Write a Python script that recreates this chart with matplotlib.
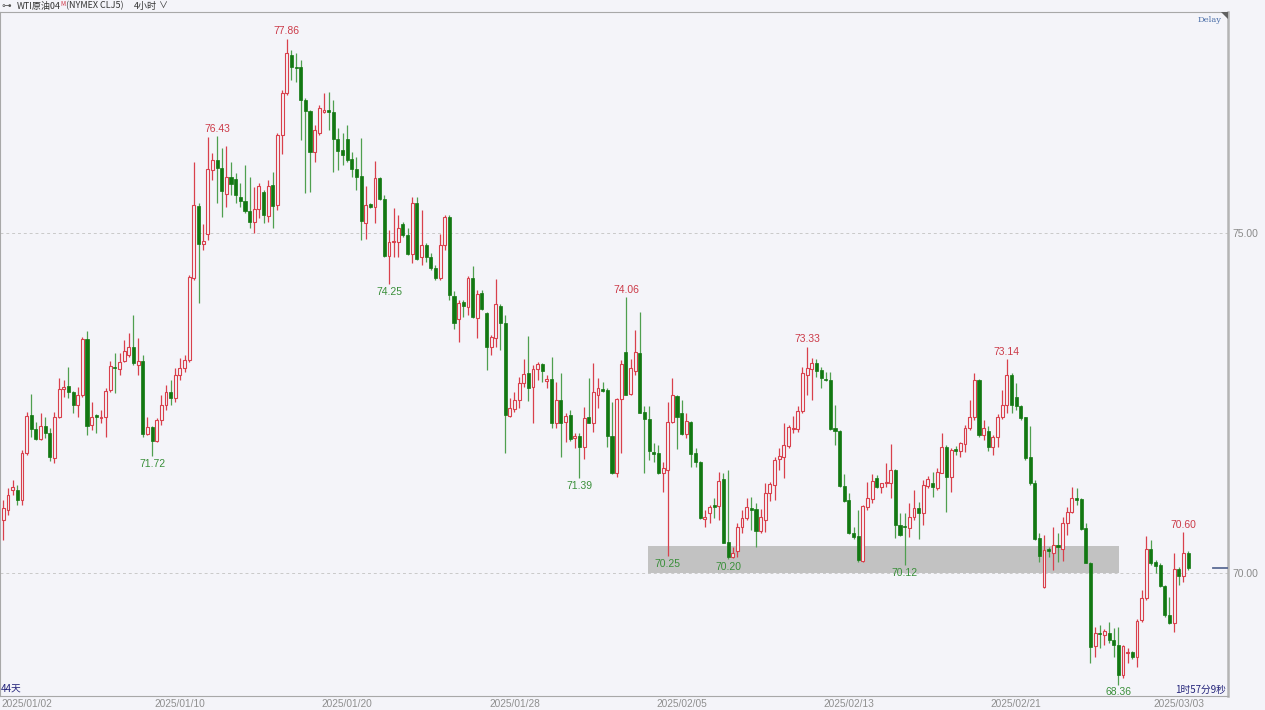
import matplotlib
matplotlib.use("Agg")
import matplotlib.pyplot as plt
from matplotlib.patches import Rectangle, Polygon

# WTI 4h candles, 2025/01/02 - 2025/03/03
opens = [
    70.78, 70.93, 71.22, 71.22, 71.07, 71.76, 72.32, 72.12, 71.97, 72.16,
    72.06, 71.69, 72.29, 72.71, 72.75, 72.66, 72.47, 72.62, 73.44, 72.18,
    72.32, 72.28, 72.29, 72.69, 73.03, 73.00, 73.12, 73.21, 73.32, 73.06,
    73.12, 72.04, 72.15, 71.94, 72.25, 72.47, 72.66, 72.57, 72.91, 73.01,
    73.13, 74.34, 75.40, 74.84, 74.99, 75.93, 76.07, 75.96, 75.57, 75.82,
    75.79, 75.53, 75.47, 75.32, 75.16, 75.35, 75.60, 75.25, 75.71, 75.41,
    76.44, 77.06, 77.62, 77.44, 77.44, 76.96, 76.79, 76.19, 76.47, 76.78,
    76.81, 76.78, 76.38, 76.22, 76.38, 76.09, 75.94, 75.84, 75.15, 75.43,
    75.38, 75.81, 75.50, 74.66, 74.87, 74.87, 75.13, 74.97, 74.69, 75.44,
    74.65, 74.82, 74.65, 74.49, 74.34, 74.82, 75.24, 74.07, 73.74, 73.99,
    73.91, 74.34, 73.75, 74.12, 73.82, 73.32, 73.46, 73.93, 73.68, 72.31,
    72.41, 72.54, 72.79, 72.94, 72.74, 73.00, 73.07, 72.82, 72.85, 72.21,
    72.54, 72.22, 72.32, 71.99, 72.01, 71.85, 72.29, 72.21, 72.62, 72.71,
    72.69, 72.01, 71.47, 72.56, 73.25, 72.63, 72.97, 73.24, 72.37, 72.26,
    71.78, 71.76, 71.47, 71.51, 72.22, 72.60, 72.35, 72.04, 72.22, 71.76,
    71.63, 70.79, 70.88, 71.00, 70.99, 71.38, 70.46, 70.24, 70.32, 70.68,
    70.81, 70.96, 70.94, 70.62, 70.78, 71.18, 71.29, 71.68, 71.71, 71.87,
    72.12, 72.12, 72.38, 72.91, 73.00, 73.09, 72.99, 72.85, 72.84, 72.13,
    72.09, 71.28, 71.07, 70.59, 70.54, 70.18, 70.97, 71.09, 71.40, 71.26,
    71.32, 71.32, 71.51, 70.71, 70.69, 70.66, 70.82, 70.96, 70.88, 71.28,
    71.32, 71.25, 71.47, 71.85, 71.41, 71.82, 71.79, 71.90, 72.13, 72.29,
    72.84, 72.03, 72.09, 71.85, 72.00, 72.29, 72.47, 72.91, 72.59, 72.46,
    72.29, 71.71, 71.32, 70.51, 69.79, 70.35, 70.29, 70.41, 70.35, 70.74,
    70.90, 71.10, 71.09, 70.66, 70.15, 68.93, 69.12, 69.09, 69.12, 69.01,
    68.94, 68.50, 68.82, 68.84, 68.76, 69.31, 69.63, 70.35, 70.16, 70.12,
    69.81, 69.38, 69.26, 70.06, 69.96, 70.29,
]
highs = [
    71.07, 71.25, 71.37, 71.29, 71.81, 72.37, 72.63, 72.22, 72.35, 72.29,
    72.13, 72.37, 72.87, 72.84, 73.03, 72.68, 72.74, 73.47, 73.56, 72.51,
    72.34, 72.40, 72.72, 73.12, 73.24, 73.24, 73.43, 73.53, 73.79, 73.46,
    73.21, 72.29, 72.16, 72.28, 72.62, 72.76, 72.84, 73.01, 73.16, 73.21,
    74.38, 76.04, 75.44, 75.13, 76.41, 76.18, 76.43, 76.25, 76.28, 76.04,
    75.88, 75.74, 76.00, 75.82, 75.68, 75.74, 75.63, 75.78, 75.90, 76.47,
    77.10, 77.86, 77.69, 77.65, 77.54, 76.98, 76.81, 76.59, 76.88, 77.06,
    77.07, 76.96, 76.54, 76.47, 76.59, 76.19, 76.12, 76.40, 75.69, 75.44,
    76.06, 75.82, 75.56, 75.04, 75.37, 75.26, 75.16, 75.07, 75.53, 75.53,
    75.34, 74.85, 74.71, 74.53, 74.99, 75.26, 75.26, 74.15, 74.01, 74.01,
    74.37, 74.51, 74.16, 74.16, 73.84, 73.50, 74.32, 73.96, 73.79, 72.57,
    72.66, 72.88, 73.15, 73.49, 73.06, 73.10, 73.09, 72.91, 73.18, 72.81,
    72.94, 72.35, 72.40, 72.06, 72.06, 72.44, 72.87, 73.09, 72.87, 72.81,
    72.72, 72.51, 72.57, 73.13, 74.06, 73.15, 73.57, 73.84, 72.46, 72.46,
    71.91, 71.88, 71.63, 72.51, 72.87, 72.62, 72.54, 72.35, 72.24, 71.84,
    71.65, 70.93, 71.00, 71.10, 71.49, 71.47, 71.51, 70.38, 70.74, 70.93,
    71.10, 71.12, 71.03, 70.94, 71.32, 71.34, 71.71, 71.84, 72.21, 72.18,
    72.31, 72.46, 73.03, 73.33, 73.16, 73.15, 73.03, 72.96, 72.96, 72.47,
    72.10, 71.46, 71.18, 70.68, 70.93, 71.00, 71.34, 71.46, 71.44, 71.33,
    71.62, 71.90, 71.53, 70.88, 70.88, 71.03, 71.22, 71.04, 71.37, 71.43,
    71.49, 71.54, 72.06, 71.88, 71.84, 71.87, 71.93, 72.18, 72.54, 72.94,
    72.85, 72.25, 72.16, 72.03, 72.34, 72.69, 73.14, 72.94, 72.79, 72.47,
    72.30, 72.16, 71.37, 70.59, 70.56, 70.38, 70.68, 70.59, 70.82, 70.97,
    71.26, 71.25, 71.10, 70.74, 70.16, 69.21, 69.24, 69.18, 69.28, 69.19,
    69.21, 68.94, 68.90, 68.85, 69.32, 69.75, 70.54, 70.49, 70.19, 70.15,
    69.82, 69.65, 70.29, 70.09, 70.60, 70.32,
]
lows = [
    70.49, 70.85, 71.15, 71.00, 71.00, 71.74, 72.00, 71.96, 71.96, 71.99,
    71.65, 71.62, 72.28, 72.59, 72.57, 72.35, 72.29, 72.59, 72.03, 72.10,
    72.06, 72.21, 72.00, 72.66, 72.65, 72.91, 73.10, 73.18, 73.06, 72.91,
    72.00, 72.03, 71.72, 71.93, 72.18, 72.40, 72.47, 72.51, 72.84, 72.96,
    73.10, 74.31, 73.97, 74.75, 74.90, 75.78, 75.44, 75.24, 75.38, 75.56,
    75.44, 75.38, 75.29, 75.07, 75.00, 75.22, 75.15, 75.16, 75.07, 75.34,
    76.16, 77.03, 77.25, 77.22, 76.37, 75.59, 75.60, 76.04, 76.44, 76.76,
    76.51, 75.90, 75.93, 76.00, 76.04, 75.82, 75.63, 74.90, 74.91, 75.37,
    75.15, 75.49, 74.65, 74.25, 74.65, 74.65, 74.94, 74.68, 74.56, 74.60,
    74.53, 74.57, 74.46, 74.31, 74.31, 74.75, 74.01, 73.59, 73.40, 73.76,
    73.79, 73.75, 73.46, 73.87, 72.99, 73.21, 73.32, 73.28, 71.76, 72.29,
    72.37, 72.43, 72.74, 72.53, 72.21, 72.84, 72.81, 72.72, 72.13, 72.13,
    71.71, 71.93, 71.94, 71.84, 71.39, 71.68, 72.20, 72.07, 72.43, 72.66,
    71.85, 71.46, 71.41, 71.76, 72.62, 72.62, 72.91, 72.35, 71.47, 71.66,
    71.63, 71.46, 71.19, 70.25, 72.21, 71.82, 72.03, 71.99, 71.56, 71.56,
    70.79, 70.68, 70.74, 70.81, 70.78, 70.44, 70.20, 70.22, 70.24, 70.59,
    70.78, 70.63, 70.38, 70.59, 70.60, 71.06, 71.07, 71.51, 71.40, 71.84,
    72.06, 72.07, 72.35, 72.62, 72.54, 72.88, 72.72, 72.83, 72.10, 71.88,
    71.26, 71.04, 70.58, 70.50, 70.16, 70.16, 70.93, 71.03, 71.25, 71.18,
    71.26, 71.10, 70.51, 70.54, 70.12, 70.53, 70.78, 70.50, 70.71, 71.25,
    71.12, 71.22, 71.47, 70.90, 71.19, 71.74, 71.71, 71.78, 72.10, 72.25,
    72.00, 71.96, 71.79, 71.74, 71.85, 72.26, 72.35, 72.35, 72.40, 72.25,
    71.66, 71.29, 70.49, 70.16, 69.78, 70.24, 70.04, 70.16, 70.18, 70.56,
    70.88, 71.00, 70.63, 70.15, 68.68, 68.76, 68.90, 68.94, 68.97, 68.76,
    68.36, 68.46, 68.68, 68.74, 68.62, 69.28, 69.60, 70.12, 70.00, 69.79,
    69.35, 69.25, 69.13, 69.82, 69.87, 70.04,
]
closes = [
    70.96, 71.15, 71.26, 71.07, 71.76, 72.31, 72.12, 71.97, 72.16, 72.06,
    71.71, 72.29, 72.71, 72.74, 72.66, 72.47, 72.62, 73.44, 72.16, 72.29,
    72.29, 72.29, 72.68, 73.04, 73.01, 73.10, 73.26, 73.32, 73.09, 73.12,
    72.04, 72.15, 71.94, 72.25, 72.47, 72.66, 72.57, 72.91, 73.01, 73.13,
    74.35, 75.41, 74.84, 74.88, 75.94, 76.07, 75.96, 75.62, 75.82, 75.72,
    75.56, 75.47, 75.32, 75.16, 75.35, 75.69, 75.26, 75.69, 75.40, 76.44,
    77.06, 77.65, 77.44, 77.43, 76.96, 76.79, 76.19, 76.51, 76.84, 76.81,
    76.78, 76.38, 76.21, 76.15, 76.07, 75.94, 75.82, 75.18, 75.41, 75.38,
    75.81, 75.50, 74.66, 74.87, 74.88, 75.07, 74.97, 74.69, 75.44, 74.62,
    74.82, 74.65, 74.49, 74.34, 74.82, 75.24, 74.09, 73.68, 73.97, 73.93,
    74.34, 73.76, 74.10, 73.88, 73.32, 73.47, 73.96, 73.68, 72.32, 72.43,
    72.54, 72.79, 72.93, 72.72, 73.00, 73.07, 72.97, 72.85, 72.21, 72.54,
    72.21, 72.31, 71.97, 72.01, 71.85, 72.28, 72.21, 72.66, 72.72, 72.68,
    72.01, 71.47, 72.56, 73.07, 72.62, 73.01, 73.25, 72.35, 72.26, 71.79,
    71.75, 71.47, 71.54, 72.22, 72.62, 72.29, 72.04, 72.24, 71.75, 71.63,
    70.81, 70.82, 70.97, 70.97, 71.35, 70.44, 70.24, 70.29, 70.68, 70.81,
    70.97, 70.93, 70.62, 70.82, 71.18, 71.31, 71.66, 71.72, 71.88, 72.15,
    72.13, 72.38, 72.94, 73.01, 73.09, 72.97, 72.87, 72.84, 72.12, 72.09,
    71.28, 71.06, 70.59, 70.53, 70.19, 70.99, 71.10, 71.35, 71.26, 71.32,
    71.34, 71.51, 70.71, 70.56, 70.68, 70.82, 70.96, 70.88, 71.29, 71.38,
    71.26, 71.49, 71.85, 71.41, 71.81, 71.79, 71.91, 72.13, 72.29, 72.84,
    72.03, 72.13, 71.85, 72.00, 72.29, 72.47, 72.91, 72.47, 72.46, 72.28,
    71.69, 71.32, 70.50, 70.25, 70.34, 70.32, 70.41, 70.38, 70.74, 70.90,
    71.10, 71.07, 70.65, 70.15, 68.91, 69.12, 69.10, 69.15, 69.01, 68.94,
    68.50, 68.93, 68.84, 68.76, 69.29, 69.63, 70.35, 70.15, 70.10, 69.81,
    69.38, 69.26, 70.06, 69.96, 70.29, 70.07,
]

# bars that carry a high / low tag
peak_idx = [46, 61, 134, 173, 216, 254]
trough_idx = [32, 83, 124, 143, 156, 194, 240]

date_labels = ["2025/01/02", "2025/01/10", "2025/01/20", "2025/01/28",
               "2025/02/05", "2025/02/13", "2025/02/21", "2025/03/03"]
date_idx = [5, 38, 74, 110, 146, 182, 218, 253]

price_ticks = [70.0, 75.0]
zone_low, zone_high = 70.00, 70.40
zone_from, zone_to = 138.8, 240.2

bg = "#f4f4f9"
up_col = "#d9404c"
dn_col = "#127812"
dn_wick = "#4f9f4f"
W, H = 1265, 710

fig = plt.figure(figsize=(W / 100, H / 100), dpi=100, facecolor=bg)
ax = fig.add_axes([0, 14 / H, 1228 / W, 684 / H], facecolor=bg)

n = len(closes)
xs = list(range(n))
up = [closes[i] >= opens[i] for i in xs]

for i in xs:
    wc = up_col if up[i] else dn_wick
    ax.vlines(i, lows[i], highs[i], color=wc, lw=0.9, zorder=2)

for i in xs:
    lo = min(opens[i], closes[i])
    h = max(abs(closes[i] - opens[i]), 0.012)
    if up[i]:
        ax.bar(i, h, bottom=lo, width=0.62, facecolor=bg, edgecolor=up_col,
               linewidth=0.8, zorder=3)
    else:
        ax.bar(i, h, bottom=lo, width=0.66, facecolor=dn_col, edgecolor=dn_col,
               linewidth=0.5, zorder=3)

# support band
ax.add_patch(Rectangle((zone_from, zone_low), zone_to - zone_from, zone_high - zone_low,
                       facecolor="#c2c2c2", edgecolor="none", zorder=1))

for p in price_ticks:
    ax.axhline(p, color="#c9c9c9", lw=0.7, ls=(0, (3, 3)), zorder=0)

for i in peak_idx:
    ax.annotate(f"{highs[i]:.2f}", xy=(i, highs[i]), xytext=(0, 1.5),
                textcoords="offset points", ha="center", va="bottom",
                fontsize=7.5, color="#cc3a48", family="Liberation Sans", zorder=5)
for i in trough_idx:
    ax.annotate(f"{lows[i]:.2f}", xy=(i, lows[i]), xytext=(0, -2),
                textcoords="offset points", ha="center", va="top",
                fontsize=7.5, color="#3a8f3a", family="Liberation Sans", zorder=5)

# last price marker at the right edge
ax.axhline(closes[-1], xmin=0.988, xmax=1.0, color="#5b6b95", lw=1.3, zorder=4)

ax.set_xlim(-0.73, 263.6)
ax.set_ylim(68.191, 78.25)

ax.yaxis.tick_right()
ax.set_yticks(price_ticks)
ax.set_yticklabels([f"{p:.2f}" for p in price_ticks])
ax.tick_params(axis="y", length=0, pad=3, labelsize=7.5, labelcolor="#8a8a8a")
ax.set_xticks(date_idx)
ax.set_xticklabels(date_labels)
ax.tick_params(axis="x", length=0, pad=2.5, labelsize=7.3, labelcolor="#8f8f8f")
for lab in ax.get_xticklabels() + ax.get_yticklabels():
    lab.set_family("Liberation Sans")

for side in ["left", "top", "bottom"]:
    ax.spines[side].set_color("#a8a8a8")
    ax.spines[side].set_linewidth(0.8)
ax.spines["right"].set_color("#b4b4b4")
ax.spines["right"].set_linewidth(1.8)

# corner marker
ax.add_patch(Polygon([(1 - 7 / 1228, 1), (1, 1), (1, 1 - 7 / 684)], closed=True,
                     transform=ax.transAxes, facecolor="#606060", edgecolor="none",
                     clip_on=False, zorder=6))
ax.text(1 - 6 / 1228, 1 - 8 / 684, "Delay", transform=ax.transAxes, ha="right", va="center",
        fontsize=6, color="#4a6ea8", family="DejaVu Serif")

cjk = ["Noto Sans CJK SC", "DejaVu Sans"]
fig.text(1 / W, 1 - 6 / H, "⊶", fontsize=7, color="#555555", va="center", family=cjk)
fig.text(17 / W, 1 - 6 / H, "WTI原油04", fontsize=6.5, color="#333333", va="center", family=cjk)
fig.text(60 / W, 1 - 4 / H, "M", fontsize=4.5, color="#d03040", va="center", family=cjk)
fig.text(66 / W, 1 - 6 / H, "(NYMEX CLJ5)", fontsize=6.5, color="#333333", va="center", family=cjk)
fig.text(134 / W, 1 - 6 / H, "4小时", fontsize=6.5, color="#333333", va="center", family=cjk)
fig.text(159 / W, 1 - 6 / H, "∨", fontsize=6.5, color="#333333", va="center", family=cjk)

fig.text(1 / W, 1 - 689 / H, "44天", fontsize=7, color="#23237a", va="center", family=cjk)
fig.text(1226 / W, 1 - 690 / H, "1时57分9秒", fontsize=7, color="#23237a", va="center",
         ha="right", family=cjk)

fig.savefig("out.png", dpi=100, facecolor=bg)
